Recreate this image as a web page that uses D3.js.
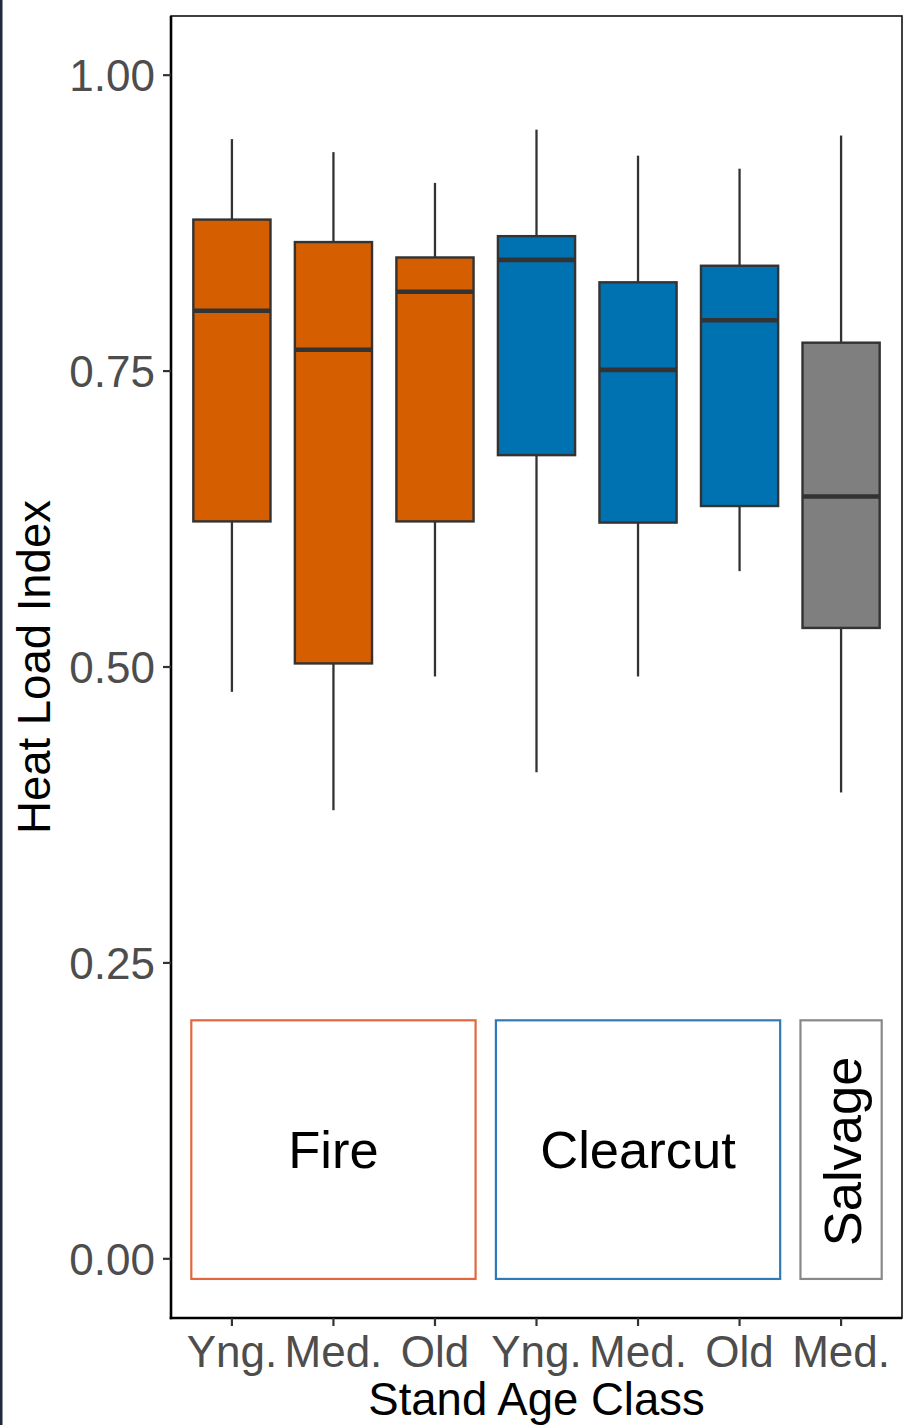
<!DOCTYPE html>
<html>
<head>
<meta charset="utf-8">
<script src="https://cdn.jsdelivr.net/npm/d3@7"></script>
<style>
html,body{margin:0;padding:0;background:#fff;}
svg{display:block;font-family:"Liberation Sans",Arial,sans-serif;}
</style>
</head>
<body>
<svg id="chart" width="904" height="1425"></svg>
<script>
const categories = ["Yng.", "Med.", "Old", "Yng.", "Med.", "Old", "Med."];
const treatments = ["Fire", "Fire", "Fire", "Clearcut", "Clearcut", "Clearcut", "Salvage"];
const whiskerLow  = [0.479, 0.379, 0.492, 0.411, 0.492, 0.581, 0.394];
const q1          = [0.623, 0.503, 0.623, 0.679, 0.622, 0.636, 0.533];
const median      = [0.801, 0.768, 0.817, 0.844, 0.751, 0.793, 0.644];
const q3          = [0.878, 0.859, 0.846, 0.864, 0.825, 0.839, 0.774];
const whiskerHigh = [0.946, 0.935, 0.909, 0.954, 0.932, 0.921, 0.949];
const yTicks = [0, 0.25, 0.5, 0.75, 1.0];
const groupNames = ["Fire", "Clearcut", "Salvage"];
const groupStart = [-0.4, 2.6, 5.6];
const groupEnd   = [2.4, 5.4, 6.4];
const groupYLow = -0.017, groupYHigh = 0.2015, groupLabelY = 0.1;

const fillColor = {Fire: "#D55E00", Clearcut: "#0072B2", Salvage: "#7F7F7F"};
const borderColor = {Fire: "#E0683C", Clearcut: "#2E7BB8", Salvage: "#888888"};

const svg = d3.select("#chart");
const W = 904, H = 1425;
const panel = {left: 171, right: 902, top: 16, bottom: 1318};

// left dark strip
svg.append("rect").attr("x", 0).attr("y", 0).attr("width", 2.5).attr("height", H).attr("fill", "#1F2B3D");

const y = d3.scaleLinear().domain([-0.05, 1.05]).range([panel.bottom, panel.top]);
const idx = d3.range(categories.length);
const step = (panel.right - panel.left) / (categories.length - 1 + 1.2);
const x = d3.scaleLinear().domain([0, 1]).range([panel.left + 0.6 * step, panel.left + 1.6 * step]);
const boxW = 0.76 * step;

// panel border (thin, top & right)
svg.append("rect").attr("x", panel.left).attr("y", panel.top)
  .attr("width", panel.right - panel.left).attr("height", panel.bottom - panel.top)
  .attr("fill", "none").attr("stroke", "#111").attr("stroke-width", 1.6);

const g = svg.append("g");

idx.forEach(i => {
  g.append("line").attr("x1", x(i)).attr("x2", x(i))
    .attr("y1", y(whiskerHigh[i])).attr("y2", y(q3[i]))
    .attr("stroke", "#333").attr("stroke-width", 2.3);
  g.append("line").attr("x1", x(i)).attr("x2", x(i))
    .attr("y1", y(q1[i])).attr("y2", y(whiskerLow[i]))
    .attr("stroke", "#333").attr("stroke-width", 2.3);
  g.append("rect").attr("x", x(i) - boxW / 2).attr("y", y(q3[i]))
    .attr("width", boxW).attr("height", y(q1[i]) - y(q3[i]))
    .attr("fill", fillColor[treatments[i]]).attr("stroke", "#333").attr("stroke-width", 2.4);
  g.append("line").attr("x1", x(i) - boxW / 2).attr("x2", x(i) + boxW / 2)
    .attr("y1", y(median[i])).attr("y2", y(median[i]))
    .attr("stroke", "#333").attr("stroke-width", 4.6);
});

// group annotation boxes
groupNames.forEach((name, k) => {
  g.append("rect").attr("x", x(groupStart[k])).attr("y", y(groupYHigh))
    .attr("width", x(groupEnd[k]) - x(groupStart[k])).attr("height", y(groupYLow) - y(groupYHigh))
    .attr("fill", "none").attr("stroke", borderColor[name]).attr("stroke-width", 2.2);
  const cx = (x(groupStart[k]) + x(groupEnd[k])) / 2;
  const cy = y(groupLabelY) + 9;
  if (name === "Salvage") {
    g.append("text").attr("transform", `translate(${cx + 20},${cy + 2}) rotate(-90)`)
      .attr("text-anchor", "middle").attr("font-size", 52.5).attr("fill", "#000").text(name);
  } else {
    g.append("text").attr("x", cx).attr("y", cy + 19)
      .attr("text-anchor", "middle").attr("font-size", 52.5).attr("fill", "#000").text(name);
  }
});

// axes lines
svg.append("line").attr("x1", panel.left).attr("x2", panel.left).attr("y1", panel.top).attr("y2", panel.bottom + 1.3)
  .attr("stroke", "#000").attr("stroke-width", 2.6);
svg.append("line").attr("x1", panel.left - 1.3).attr("x2", panel.right).attr("y1", panel.bottom).attr("y2", panel.bottom)
  .attr("stroke", "#000").attr("stroke-width", 2.6);

// y ticks
yTicks.forEach(t => {
  svg.append("line").attr("x1", panel.left - 8).attr("x2", panel.left).attr("y1", y(t)).attr("y2", y(t))
    .attr("stroke", "#333").attr("stroke-width", 2.2);
  svg.append("text").attr("x", 155).attr("y", y(t)).attr("dy", "0.36em")
    .attr("text-anchor", "end").attr("font-size", 44).attr("fill", "#4D4D4D").text(d3.format(".2f")(t));
});

// x ticks
idx.forEach(i => {
  svg.append("line").attr("x1", x(i)).attr("x2", x(i)).attr("y1", panel.bottom).attr("y2", panel.bottom + 8)
    .attr("stroke", "#333").attr("stroke-width", 2.2);
  svg.append("text").attr("x", x(i)).attr("y", 1367)
    .attr("text-anchor", "middle").attr("font-size", 44).attr("fill", "#4D4D4D").text(categories[i]);
});

// titles
svg.append("text").attr("x", (panel.left + panel.right) / 2).attr("y", 1415)
  .attr("text-anchor", "middle").attr("font-size", 45.5).attr("fill", "#000").text("Stand Age Class");
svg.append("text").attr("transform", `translate(50,${(panel.top + panel.bottom) / 2}) rotate(-90)`)
  .attr("text-anchor", "middle").attr("font-size", 45.5).attr("fill", "#000").text("Heat Load Index");
</script>
</body>
</html>
